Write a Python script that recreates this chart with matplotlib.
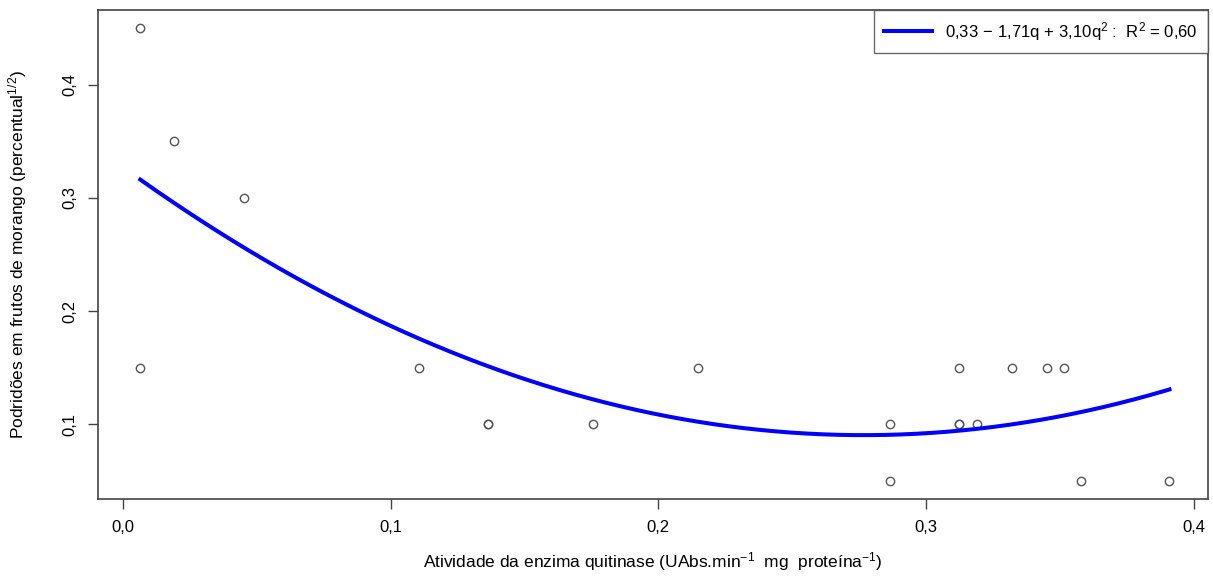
import numpy as np
import matplotlib
matplotlib.use("Agg")
import matplotlib.pyplot as plt

plt.rcParams['font.family'] = ['Liberation Sans', 'DejaVu Sans']
plt.rcParams['mathtext.fontset'] = 'custom'
plt.rcParams['mathtext.rm'] = 'Liberation Sans'
plt.rcParams['mathtext.it'] = 'Liberation Sans'

# atividade da quitinase vs podridoes
quitinase = [0.0064, 0.0064, 0.0191, 0.0453, 0.1104, 0.1362, 0.1362, 0.1755, 0.2147,
             0.2866, 0.2866, 0.3124, 0.3124, 0.3124, 0.3190, 0.3322, 0.3453, 0.3517,
             0.3580, 0.3910]
podridoes = [0.45, 0.15, 0.35, 0.30, 0.15, 0.10, 0.10, 0.10, 0.15,
             0.10, 0.05, 0.15, 0.10, 0.10, 0.10, 0.15, 0.15, 0.15,
             0.05, 0.05]

# coeficientes do ajuste quadratico (a + b q + c q^2)
coef = [0.327, -1.71, 3.09]
legend_label = "0,33$\\,-\\,$1,71q$\\,+\\,$3,10q$^2$ :  R$^2$ = 0,60"

xticks = [0.0, 0.1, 0.2, 0.3, 0.4]
yticks = [0.1, 0.2, 0.3, 0.4]

fig = plt.figure(figsize=(12.13, 5.77), dpi=100)
ax = fig.add_axes([98 / 1213, 78 / 577, 1110 / 1213, 489 / 577])

ax.plot(quitinase, podridoes, 'o', mfc='none', mec='#555555', ms=6.0, mew=1.0)

q = np.linspace(min(quitinase), max(quitinase), 200)
ax.plot(q, coef[0] + coef[1] * q + coef[2] * q ** 2, color='#0000ff', lw=2.9,
        label=legend_label)

ax.set_xlim(-0.0094, 0.4054)
ax.set_ylim(0.034, 0.466)
ax.set_xticks(xticks)
ax.set_xticklabels([f"{t:.1f}".replace('.', ',') for t in xticks])
ax.set_yticks(yticks)
ax.set_yticklabels([f"{t:.1f}".replace('.', ',') for t in yticks],
                   rotation=90, va='center')
ax.tick_params(labelsize=12, length=7, width=1, color='#444444', pad=8)

for s in ax.spines.values():
    s.set_color('#444444')
    s.set_linewidth(1.2)

ax.set_xlabel("Atividade da enzima quitinase (UAbs.min$^{-1}$  mg  proteína$^{-1}$)",
              fontsize=12.5, labelpad=11)
ax.set_ylabel("Podridões em frutos de morango (percentual$^{1/2}$)",
              fontsize=12.5, labelpad=24)

leg = ax.legend(loc='upper right', fontsize=12, frameon=True, fancybox=False,
                borderaxespad=0, handlelength=2.9, borderpad=0.6)
leg.get_frame().set_edgecolor('#444444')
leg.get_frame().set_linewidth(1.0)

fig.savefig("out.png", dpi=100)
